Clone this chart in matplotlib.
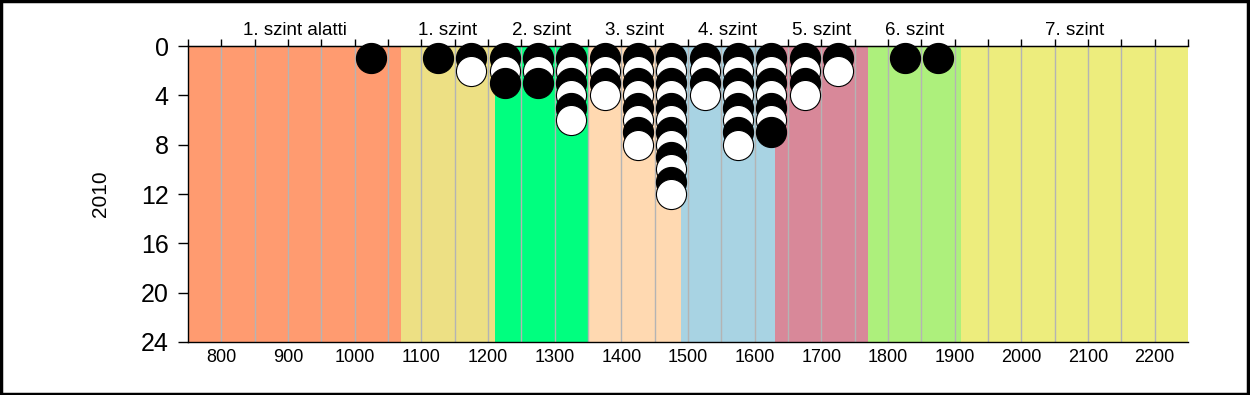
import matplotlib.pyplot as plt
import numpy as np

plt.rcParams['font.family'] = ['Liberation Sans', 'DejaVu Sans']

# Sávok (szintek) határai, nevei és színei
band_names = ['1. szint alatti', '1. szint', '2. szint', '3. szint',
              '4. szint', '5. szint', '6. szint', '7. szint']
band_edges = [750, 1070, 1210, 1350, 1490, 1630, 1770, 1910, 2250]
band_colors = ['#FF9B70', '#EDE084', '#00FF7F', '#FFD9B1',
               '#A8D3E3', '#D88899', '#ADF07C', '#EDED7D']

# Pontoszlopok: x pozíció és darabszám
col_x = [1025, 1125, 1175, 1225, 1275, 1325, 1375, 1425,
         1475, 1525, 1575, 1625, 1675, 1725, 1825, 1875]
col_count = [1, 1, 2, 3, 3, 6, 4, 8, 12, 4, 8, 7, 4, 2, 1, 1]

y_ticks = [0, 4, 8, 12, 16, 20, 24]
x_ticks = [800, 900, 1000, 1100, 1200, 1300, 1400, 1500,
           1600, 1700, 1800, 1900, 2000, 2100, 2200]


def main():
    fig = plt.figure(figsize=(12.5, 3.95), dpi=100)
    ax = fig.add_axes([0.1504, 0.1342, 0.8, 0.7493])

    # Háttérsávok
    for i in range(len(band_names)):
        ax.axvspan(band_edges[i], band_edges[i + 1], color=band_colors[i], lw=0, zorder=0)

    # Függőleges rácsvonalak 50-enként
    for gx in np.arange(800, 2250, 50):
        ax.axvline(gx, color='#b4b4b4', lw=1, zorder=1)

    # Pontok: felülről lefelé, váltakozva fekete/fehér
    xs, ys, cs = [], [], []
    for x, n in zip(col_x, col_count):
        for k in range(1, n + 1):
            xs.append(x)
            ys.append(k)
            cs.append('black' if k % 2 == 1 else 'white')
    for x, y, c in zip(xs, ys, cs):
        ax.scatter(x, y, s=470, c=c, edgecolors='black', linewidths=0.8,
                   zorder=3, clip_on=False)

    ax.set_xlim(750, 2250)
    ax.set_ylim(24, 0)

    ax.set_yticks(y_ticks)
    ax.set_yticklabels([str(v) for v in y_ticks], fontsize=18)
    ax.set_xticks(x_ticks)
    ax.set_xticklabels([str(v) for v in x_ticks], fontsize=13)
    ax.tick_params(axis='x', length=0, pad=5)
    ax.tick_params(axis='y', length=7, width=1, direction='out', pad=7)

    ax.set_ylabel('2010', fontsize=15)
    ax.yaxis.set_label_coords(-0.078, 0.5)

    # Felső tengely: szintnevek és osztásjelek
    top = ax.secondary_xaxis('top')
    top.set_xticks(np.arange(750, 2251, 50))
    top.set_xticklabels([])
    top.tick_params(length=5, width=1, direction='out')
    for i, name in enumerate(band_names):
        cx = (band_edges[i] + band_edges[i + 1]) / 2
        ax.text(cx, -0.6, name, ha='center', va='bottom', fontsize=13.5)

    ax.spines['right'].set_visible(False)
    for s in ['left', 'bottom', 'top']:
        ax.spines[s].set_linewidth(1)

    # Keret a kép körül
    fig.patches.append(plt.Rectangle((0.001, 0.002), 0.997, 0.995, transform=fig.transFigure,
                                     fill=False, edgecolor='black', lw=2.5))

    fig.savefig('out.png', dpi=100)


if __name__ == "__main__":
    main()
